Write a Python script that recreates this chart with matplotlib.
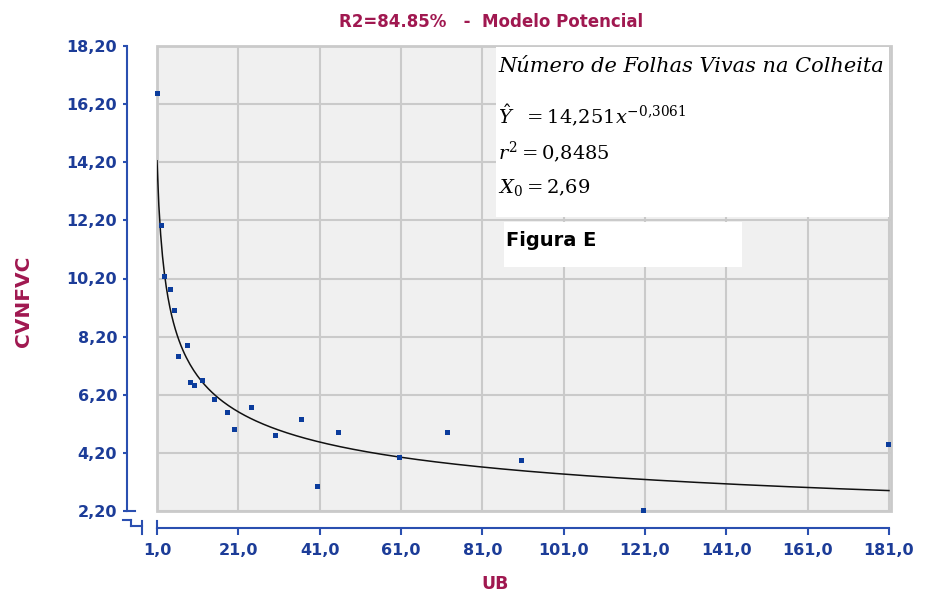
import numpy as np
import matplotlib
matplotlib.use("Agg")
import matplotlib.pyplot as plt
from matplotlib.patches import Rectangle
from matplotlib.lines import Line2D

# pontos observados (UB x CVNFVC)
ub = [1.0, 2.1, 2.8, 4.2, 5.3, 6.1, 8.5, 9.2, 10.0, 12.1, 15.1, 18.3, 19.9,
      24.2, 30.1, 36.4, 40.4, 45.4, 60.5, 72.3, 90.4, 120.4, 180.7]
cv = [16.59, 12.04, 10.27, 9.85, 9.10, 7.54, 7.92, 6.64, 6.53, 6.70, 6.04,
      5.62, 5.03, 5.78, 4.82, 5.35, 3.05, 4.93, 4.06, 4.93, 3.95, 2.24, 4.49]

# modelo potencial Y = a * x^b
a_coef = 14.251
b_coef = -0.3061

xticks = [1, 21, 41, 61, 81, 101, 121, 141, 161, 181]
yticks = [2.2, 4.2, 6.2, 8.2, 10.2, 12.2, 14.2, 16.2, 18.2]

W, H = 930, 592
blue = '#2a4fb0'
lblue = '#1c3c98'
maroon = '#a01850'


def fpx(x, y):
    return x / W, 1 - y / H


fig = plt.figure(figsize=(W / 100, H / 100), dpi=100)
ax = fig.add_axes([157 / W, 1 - 511 / H, (891 - 157) / W, (511 - 46) / H])
ax.set_facecolor('#f0f0f0')

xs = np.linspace(1, 181, 400)
ax.plot(xs, a_coef * xs ** b_coef, color='#111111', lw=1.1, zorder=3)
ax.plot(ub, cv, 's', color='#0b3c9c', ms=3.6, mew=0, zorder=4, clip_on=False)

ax.set_xlim(1, 181.5)
ax.set_ylim(2.2, 18.2)
ax.set_xticks(xticks)
ax.set_yticks(yticks)
ax.set_xticklabels([f"{v:.1f}".replace('.', ',') for v in xticks])
ax.set_yticklabels([f"{v:.2f}".replace('.', ',') for v in yticks])
ax.grid(True, color='#cacaca', lw=1.5)
ax.set_axisbelow(True)

for s in ['top', 'right']:
    ax.spines[s].set_visible(False)
ax.spines['left'].set_position(('outward', 21.6))
ax.spines['bottom'].set_position(('outward', 12.2))
ax.spines['bottom'].set_bounds(1, 181)
for s in ['left', 'bottom']:
    ax.spines[s].set_color(blue)
    ax.spines[s].set_linewidth(1.5)
ax.tick_params(axis='y', direction='out', length=3, width=1.5, color=blue,
               pad=4, labelsize=11.5, labelcolor=lblue)
ax.tick_params(axis='x', direction='out', length=5, width=1.5, color=blue,
               pad=6, labelsize=11.5, labelcolor=lblue)
for lab in ax.get_xticklabels() + ax.get_yticklabels():
    lab.set_fontweight('bold')

# moldura cinza da area do grafico
ax.add_patch(Rectangle((0, 0), 1, 1, transform=ax.transAxes, fill=False,
                       ec='#cacaca', lw=2, zorder=2, clip_on=False))

# quebras dos eixos
segs = [((127, 511), (135, 511)), ((123, 520), (131, 520)),
        ((131, 520), (131, 526)), ((131, 526), (142, 526)),
        ((142, 521), (142, 534)), ((157, 521), (157, 528))]
for p0, p1 in segs:
    (x0, y0), (x1, y1) = fpx(*p0), fpx(*p1)
    fig.add_artist(Line2D([x0, x1], [y0, y1], color=blue, lw=1.5))

fig.text(*fpx(491, 22), 'R2=84.85%   -  Modelo Potencial', ha='center',
         va='center', color=maroon, fontsize=12, fontweight='bold')
fig.text(*fpx(23, 301), 'CVNFVC', rotation=90, ha='center', va='center',
         color=maroon, fontsize=14.5, fontweight='bold')
fig.text(*fpx(495, 584), 'UB', ha='center', va='center', color=maroon,
         fontsize=12.5, fontweight='bold')

# caixa com a equacao
fig.add_artist(Rectangle(fpx(496, 217), 393 / W, 170 / H, transform=fig.transFigure,
                         fc='white', ec='none', zorder=5))
fig.add_artist(Rectangle(fpx(504, 267), 238 / W, 45 / H, transform=fig.transFigure,
                         fc='white', ec='none', zorder=5))
plt.rcParams['mathtext.fontset'] = 'dejavuserif'
fig.text(*fpx(498, 66), 'Número de Folhas Vivas na Colheita', family='DejaVu Serif',
         style='italic', fontsize=15, va='center', zorder=6)
fig.text(*fpx(498, 116), r'$\hat{Y}\ \ = 14{,}251x^{-0{,}3061}$', family='DejaVu Serif',
         fontsize=14, va='center', zorder=6)
fig.text(*fpx(498, 152), r'$r^{2} = 0{,}8485$', family='DejaVu Serif',
         fontsize=14, va='center', zorder=6)
fig.text(*fpx(498, 188), r'$X_{0} = 2{,}69$', family='DejaVu Serif',
         fontsize=14, va='center', zorder=6)
fig.text(*fpx(506, 240), 'Figura E', fontsize=14, fontweight='heavy',
         va='center', zorder=6)

fig.savefig('out.png', dpi=100)
